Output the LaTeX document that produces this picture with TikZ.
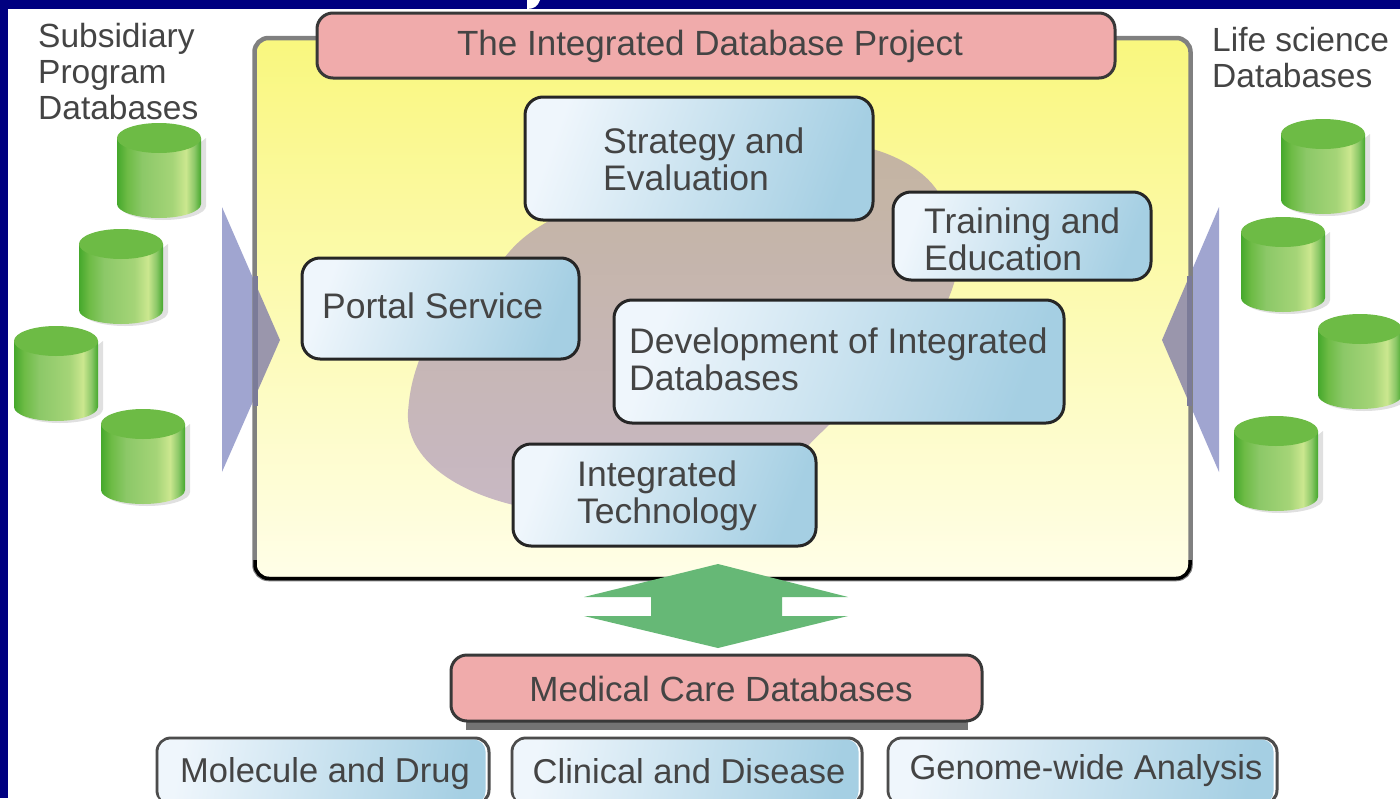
\documentclass[tikz,border=0pt]{standalone}
\usepackage{fontspec}
\setmainfont{Liberation Sans}
\definecolor{navy}{HTML}{000080}
\definecolor{pinkb}{HTML}{F0ABAB}
\definecolor{txt}{HTML}{444444}
\definecolor{grn}{HTML}{66B876}
\definecolor{cyltop}{HTML}{6DBB45}
\definecolor{cyldark}{HTML}{45A82C}
\definecolor{cylmid}{HTML}{8CC868}
\definecolor{cyllight}{HTML}{CBE78F}
\definecolor{tri}{HTML}{A0A5D0}
\definecolor{trimix}{HTML}{9A96AC}
\definecolor{triline}{HTML}{7B7B98}
\definecolor{panelt}{HTML}{F9F77E}
\definecolor{panelb}{HTML}{FFFEE8}
\definecolor{blobt}{HTML}{C4B4A0}
\definecolor{blobb}{HTML}{C8B8C4}
\definecolor{boxl}{HTML}{EFF6FC}
\definecolor{boxr}{HTML}{A5CFE3}
\pgfdeclarehorizontalshading{cylbody}{100bp}{
 color(0bp)=(cyldark);
 color(25bp)=(cyldark);
 color(31bp)=(cyltop);
 color(40bp)=(cylmid);
 color(58bp)=(cylmid!60!cyllight);
 color(66bp)=(cyllight);
 color(71bp)=(cylmid);
 color(75bp)=(cyldark);
 color(100bp)=(cyldark)}
\tikzset{
 x=1pt,y=-1pt,
 lbl/.style={text=txt,align=left,font=\fontsize{35.5}{37}\selectfont,inner sep=0pt},
 small lbl/.style={lbl,font=\fontsize{34.5}{36}\selectfont},
 side lbl/.style={lbl,font=\fontsize{33.5}{36}\selectfont},
 pinkbox/.style={draw=black!78,line width=3pt,rounded corners=16pt,fill=pinkb,inner sep=0pt},
 bluebox/.style={draw=black!85,line width=3pt,rounded corners=18pt,left color=boxl,right color=boxr,shading angle=70,inner sep=0pt},
 tinybox/.style={draw=black!70,line width=3pt,rounded corners=14pt,fill=white,inner sep=0pt},
 tinyfill/.style={left color=boxl,right color=boxr,shading angle=80,rounded corners=12pt},
}
\newcommand{\cyl}[2]{%
 \begin{scope}[shift={(#1,#2)}]
  \fill[black!12] (89,14) -- (89,82) arc[x radius=43,y radius=14,start angle=0,end angle=180] -- cycle;
  \shade[shading=cylbody] (0,14) -- (0,80) arc[x radius=42,y radius=14,start angle=180,end angle=0] -- (84,14) -- cycle;
  \fill[cyltop] (42,14) ellipse[x radius=42,y radius=15];
 \end{scope}}
\begin{document}
\begin{tikzpicture}
\useasboundingbox (0,0) rectangle (1400,798);
\fill[white] (0,0) rectangle (1400,798);
\fill[navy] (0,0) rectangle (1400,9);
\fill[navy] (0,0) rectangle (8,798);
% cut-off descender of the slide title
\fill[white] (527,0) -- (540,0) .. controls (538,6) and (534,9) .. (527,9) -- cycle;
% triangles
\fill[tri] (222,207) -- (280,340) -- (222,472) -- cycle;
\fill[tri] (1219,207) -- (1162,340) -- (1219,472) -- cycle;
% main panel
\node[draw=black!50,line width=4.5pt,rounded corners=14pt,top color=panelt,bottom color=panelb,minimum width=936pt,minimum height=541pt,inner sep=0pt] (panel) at (722.5,308.5) {};
\draw[black,line width=3.5pt,rounded corners=14pt] (255,560) -- (255,578.5) -- (1190,578.5) -- (1190,560);
% overlap of the triangles with the panel
\begin{scope}
 \clip (257,40) rectangle (1188,577);
 \fill[trimix] (222,207) -- (280,340) -- (222,472) -- cycle;
 \fill[trimix] (1219,207) -- (1162,340) -- (1219,472) -- cycle;
\end{scope}
\draw[triline,line width=5pt] (255,276) -- (255,406);
\draw[triline,line width=5pt] (1189.5,276) -- (1189.5,406);
% blob
\shade[top color=blobt,bottom color=blobb]
 (505,257) .. controls (520,238) and (535,228) .. (560,215)
 -- (700,130) -- (860,146)
 .. controls (905,155) and (935,180) .. (942,200)
 -- (955,280) .. controls (952,290) and (950,295) .. (947,302)
 -- (830,424) .. controls (822,432) and (815,438) .. (808,446)
 -- (620,515) -- (540,510)
 .. controls (470,500) and (405,465) .. (408,412)
 .. controls (410,385) and (415,370) .. (425,345)
 .. controls (445,310) and (480,280) .. (505,257) -- cycle;
% top title
\node[pinkbox,minimum width=798pt,minimum height=65pt] (title) at (716,45.5) {};
\node[lbl,font=\fontsize{35}{36}\selectfont] (titleT) at (710,46) {The Integrated Database Project};
% blue boxes
\node[bluebox,minimum width=348pt,minimum height=123pt] (strategy) at (699,158.5) {};
\node[bluebox,minimum width=258pt,minimum height=88pt] (training) at (1022,236) {};
\node[bluebox,minimum width=277pt,minimum height=101pt] (portal) at (440.5,308.5) {};
\node[bluebox,minimum width=450pt,minimum height=123pt] (dev) at (839,361.5) {};
\node[bluebox,minimum width=303pt,minimum height=102pt] (integ) at (664.5,495) {};
\node[lbl,anchor=west] (strategyT) at (603,159.5) {Strategy and\\Evaluation};
\node[lbl,anchor=west] (trainingT) at (924,239.5) {Training and\\Education};
\node[lbl,anchor=west] (portalT) at (322,306) {Portal Service};
\node[lbl,anchor=west] (devT) at (629,359) {Development of Integrated\\Databases};
\node[lbl,anchor=west] (integT) at (577,495.5) {Integrated\\Technology};
% side labels
\node[side lbl,anchor=north west] (subT) at (38,23) {Subsidiary\\Program\\Databases};
\node[side lbl,anchor=north west] (lifeT) at (1212,27) {Life science\\Databases};
% cylinders
\cyl{117}{124}\cyl{79}{230}\cyl{14}{327}\cyl{101}{410}
\cyl{1281}{120}\cyl{1241}{218}\cyl{1318}{315}\cyl{1234}{417}
% double arrow
\fill[grn] (718,564) -- (848,597) -- (782,597) -- (782,616) -- (848,616) -- (718,648) -- (584,616) -- (651,616) -- (651,597) -- (584,597) -- cycle;
% medical
\fill[black!55] (466,700) rectangle (968,730);
\node[pinkbox,minimum width=531pt,minimum height=66pt] (medical) at (716.5,688) {};
\node[lbl,font=\fontsize{35}{36}\selectfont] (medicalT) at (721,689) {Medical Care Databases};
% bottom boxes
\node[tinybox,minimum width=332pt,minimum height=66pt] (mol) at (323,771) {};
\node[tinybox,minimum width=350pt,minimum height=66pt] (cli) at (687,771) {};
\node[tinybox,minimum width=389pt,minimum height=66pt] (gen) at (1082.5,771) {};
\shade[tinyfill] ([shift={(3,3)}]mol.north west) rectangle ([shift={(-5,-2)}]mol.south east);
\shade[tinyfill] ([shift={(3,3)}]cli.north west) rectangle ([shift={(-5,-2)}]cli.south east);
\shade[tinyfill] ([shift={(3,3)}]gen.north west) rectangle ([shift={(-5,-2)}]gen.south east);
\node[small lbl] (molT) at (325,774) {Molecule and Drug};
\node[small lbl] (cliT) at (689,771) {Clinical and Disease};
\node[small lbl] (genT) at (1086,771) {Genome-wide Analysis};
\end{tikzpicture}
\end{document}
